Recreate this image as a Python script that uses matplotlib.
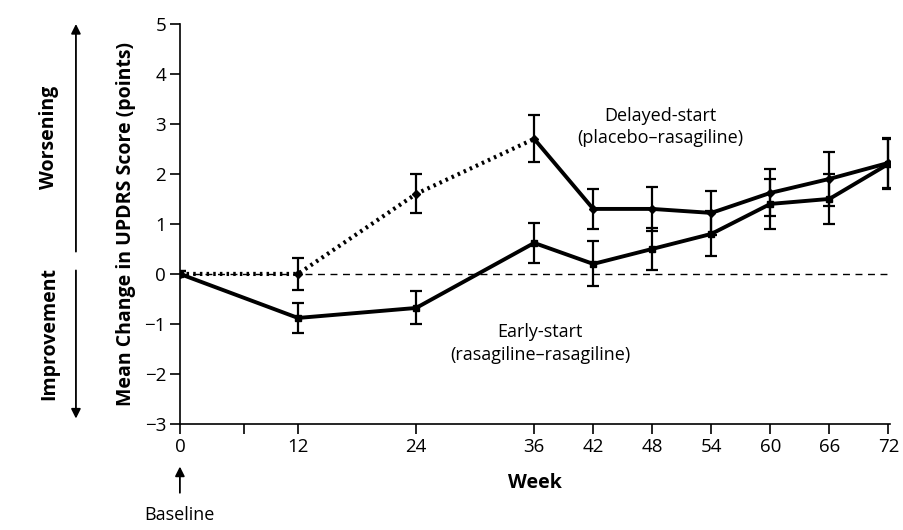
import numpy as np
import matplotlib.pyplot as plt

plt.rcParams['font.family'] = ['Open Sans', 'DejaVu Sans']

weeks = [0, 12, 24, 36, 42, 48, 54, 60, 66, 72]

# delayed-start (placebo-rasagiline)
delayed = [0.0, 0.0, 1.6, 2.7, 1.3, 1.3, 1.22, 1.62, 1.9, 2.22]
delayed_err = [0.05, 0.32, 0.39, 0.47, 0.4, 0.44, 0.44, 0.47, 0.54, 0.5]

# early-start (rasagiline-rasagiline)
early = [0.0, -0.88, -0.68, 0.62, 0.2, 0.5, 0.8, 1.4, 1.5, 2.2]
early_err = [0.05, 0.3, 0.33, 0.4, 0.45, 0.42, 0.45, 0.5, 0.5, 0.5]

xticks = [0, 12, 24, 36, 42, 48, 54, 60, 66, 72]
yticks = [-3, -2, -1, 0, 1, 2, 3, 4, 5]

fig = plt.figure(figsize=(9.04, 5.30), dpi=100)
ax = fig.add_axes([0.199, 0.2, 0.786, 0.755])

ax.axhline(0, color='black', lw=1, ls=(0, (5, 4)), zorder=1)

# placebo phase dotted, then solid
ax.plot(weeks[:4], delayed[:4], color='black', lw=3, ls=(0, (0.6, 1.0)), zorder=3)
ax.plot(weeks[3:], delayed[3:], color='black', lw=2.8, zorder=3)
ax.errorbar(weeks, delayed, yerr=delayed_err, fmt='D', ms=4, color='black',
            ecolor='black', elinewidth=1.6, capsize=4, capthick=1.6, zorder=4)

ax.plot(weeks, early, color='black', lw=2.8, zorder=3)
ax.errorbar(weeks, early, yerr=early_err, fmt='s', ms=5, color='black',
            ecolor='black', elinewidth=1.6, capsize=4, capthick=1.6, zorder=4)

ax.set_xlim(0, 72.2)
ax.set_ylim(-3, 5)
ax.set_xticks(xticks)
ax.set_xticks([6.5], minor=True)
ax.set_yticks(yticks)
ax.set_yticklabels([str(v).replace('-', '\u2212') for v in yticks])
ax.spines['top'].set_visible(False)
ax.spines['right'].set_visible(False)
ax.spines['left'].set_linewidth(1.2)
ax.spines['bottom'].set_linewidth(1.2)
ax.tick_params(axis='both', direction='out', length=7, width=1.2, labelsize=13.5, pad=3)
ax.tick_params(axis='x', which='minor', length=7, width=1.2)

ax.set_xlabel('Week', fontsize=14, fontweight='bold', labelpad=12)
ax.set_ylabel('Mean Change in UPDRS Score (points)', fontsize=14, fontweight='bold', labelpad=6)

ax.text(48.8, 2.93, 'Delayed-start\n(placebo\u2013rasagiline)', ha='center', va='center',
        fontsize=13, linespacing=1.3)
ax.text(36.6, -1.39, 'Early-start\n(rasagiline\u2013rasagiline)', ha='center', va='center',
        fontsize=13, linespacing=1.3)

# worsening / improvement arrows
fig.text(0.054, 0.74, 'Worsening', rotation=90, ha='center', va='center', fontsize=14, fontweight='bold')
fig.text(0.054, 0.37, 'Improvement', rotation=90, ha='center', va='center', fontsize=14, fontweight='bold')
fig.add_artist(plt.matplotlib.patches.FancyArrowPatch((0.084, 0.52), (0.084, 0.96),
               transform=fig.transFigure, arrowstyle='-|>', mutation_scale=14, lw=1.3, color='black'))
fig.add_artist(plt.matplotlib.patches.FancyArrowPatch((0.084, 0.495), (0.084, 0.205),
               transform=fig.transFigure, arrowstyle='-|>', mutation_scale=14, lw=1.3, color='black'))

# baseline arrow
fig.add_artist(plt.matplotlib.patches.FancyArrowPatch((0.199, 0.065), (0.199, 0.125),
               transform=fig.transFigure, arrowstyle='-|>', mutation_scale=14, lw=1.3, color='black'))
fig.text(0.199, 0.028, 'Baseline', ha='center', va='center', fontsize=13)

fig.savefig('out.png', dpi=100)
